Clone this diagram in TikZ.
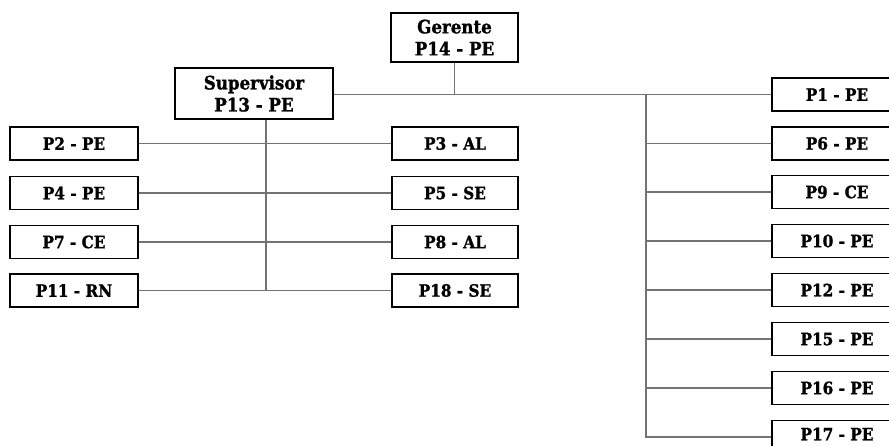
\documentclass[tikz,border=0pt]{standalone}
\usepackage{fontspec}
\setmainfont{DejaVu Serif}
\newfontfamily\boxfont[BoldFeatures={FakeBold=1.2}]{DejaVu Serif Condensed}
\begin{document}
\begin{tikzpicture}[x=1pt,y=-1pt,
  box/.style={draw=black,line width=1.6pt,fill=white,minimum width=128pt,minimum height=33pt,inner sep=0pt,font=\boxfont\bfseries\fontsize{17}{20}\selectfont},
  topbox/.style={box,minimum height=49pt,align=center,font=\boxfont\bfseries\fontsize{18.5}{22}\selectfont},
  link/.style={draw=black!55,line width=1.1pt}]
\useasboundingbox (0,0) rectangle (889,445);
\fill[white] (0,0) rectangle (889,445);
% nodes
\node[topbox,minimum width=127pt] (ger) at (454.5,37.5) {Gerente\\P14 - PE};
\node[topbox,line width=2.4pt,minimum width=158pt,minimum height=51pt] (sup) at (254,93.5) {Supervisor\\P13 - PE};
\node[box] (p2) at (74,143.5) {P2 - PE};
\node[box] (p4) at (74,193) {P4 - PE};
\node[box] (p7) at (74,242) {P7 - CE};
\node[box] (p11) at (74,290.5) {P11 - RN};
\node[box,minimum width=126pt] (p3) at (455,143.5) {P3 - AL};
\node[box,minimum width=126pt] (p5) at (455,193) {P5 - SE};
\node[box,minimum width=126pt] (p8) at (455,242) {P8 - AL};
\node[box,minimum width=126pt] (p18) at (455,290.5) {P18 - SE};
\node[box,minimum width=130pt] (p1) at (837,94.5) {P1 - PE};
\node[box,minimum width=130pt] (p6) at (837,143.5) {P6 - PE};
\node[box,minimum width=130pt] (p9) at (837,192) {P9 - CE};
\node[box,minimum width=130pt] (p10) at (837,241) {P10 - PE};
\node[box,minimum width=130pt] (p12) at (837,290) {P12 - PE};
\node[box,minimum width=130pt] (p15) at (837,339) {P15 - PE};
\node[box,minimum width=130pt] (p16) at (837,388) {P16 - PE};
\node[box,minimum width=130pt,text depth=6pt] (p17) at (837,437) {P17 - PE};
% coordinates
\coordinate (gj) at (ger.south |- p1.west);
\coordinate (rt) at (646,0);
\coordinate (rtop) at (rt |- p1.west);
\coordinate (rbot) at (rt |- p17.west);
\coordinate (sx) at (266,0);
\coordinate (stop) at (sx |- sup.south);
\coordinate (sbot) at (sx |- p11.east);
% connectors
\draw[link] (ger.south) -- (gj);
\draw[link] (sup.east |- p1.west) -- (p1.west);
\draw[link] (rtop) -- (rbot) -- (p17.west);
\foreach \n in {p6,p9,p10,p12,p15,p16} \draw[link] (rt |- \n.west) -- (\n.west);
\draw[link] (stop) -- (sbot);
\draw[link] (p2.east) -- (p3.west);
\draw[link] (p4.east) -- (p5.west);
\draw[link] (p7.east) -- (p8.west);
\draw[link] (p11.east) -- (p18.west);
\end{tikzpicture}
\end{document}
